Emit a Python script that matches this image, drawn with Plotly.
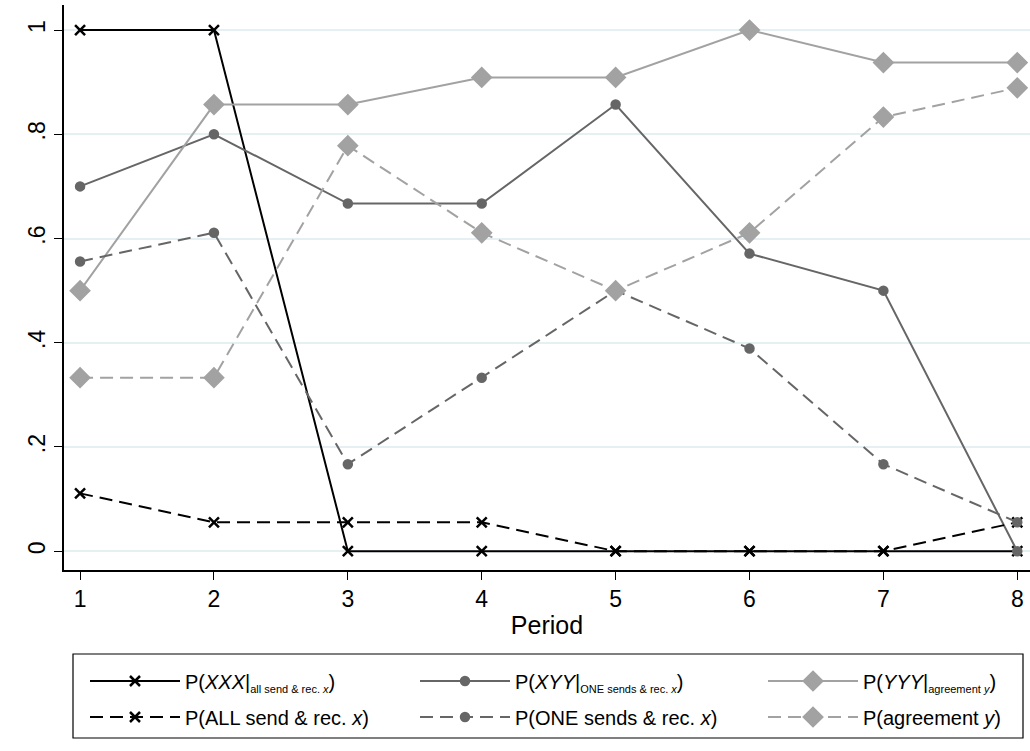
import plotly.graph_objects as go

periods = [1, 2, 3, 4, 5, 6, 7, 8]
xxx_all = [1, 1, 0, 0, 0, 0, 0, 0]
all_send = [0.111, 0.0556, 0.0556, 0.0556, 0, 0, 0, 0.0556]
xyy_one = [0.7, 0.8, 0.667, 0.667, 0.857, 0.571, 0.5, 0]
one_sends = [0.556, 0.611, 0.167, 0.333, 0.5, 0.389, 0.167, 0.0556]
yyy_agree = [0.5, 0.857, 0.857, 0.909, 0.909, 1, 0.9375, 0.9375]
agree_y = [0.333, 0.333, 0.778, 0.611, 0.5, 0.611, 0.833, 0.889]

y_ticks = [0, 0.2, 0.4, 0.6, 0.8, 1]
y_labels = ["0", ".2", ".4", ".6", ".8", "1"]

FONT = "Arial, Liberation Sans, sans-serif"
BLACK = "#000000"
DARK = "#666666"
LIGHT = "#a2a2a2"
DASH = "13px,7px"

def sub(t):
    return "<sub><span style='font-size:11px'>" + t + "</span></sub>"

fig = go.Figure()

# (name, values, colour, dash, symbol, size, legend id)
series = [
    ("P(<i>XXX</i>|" + sub("all send &amp; rec. <i>x</i>") + ")", xxx_all, BLACK, "solid", "x-thin-open", 10, "legend"),
    ("P(<i>XYY</i>|" + sub("ONE sends &amp; rec. <i>x</i>") + ")", xyy_one, DARK, "solid", "circle", 8, "legend2"),
    ("P(<i>YYY</i>|" + sub("agreement <i>y</i>") + ")", yyy_agree, LIGHT, "solid", "diamond", 14, "legend3"),
    ("P(ALL send &amp; rec. <i>x</i>)", all_send, BLACK, DASH, "x-thin-open", 10, "legend4"),
    ("P(ONE sends &amp; rec. <i>x</i>)", one_sends, DARK, DASH, "circle", 8, "legend5"),
    ("P(agreement <i>y</i>)", agree_y, LIGHT, DASH, "diamond", 14, "legend6"),
]

for name, vals, color, dash, sym, size, leg in series:
    fig.add_trace(go.Scatter(
        x=periods, y=vals, name=name, mode="lines+markers", legend=leg,
        line=dict(color=color, width=2, dash=dash),
        marker=dict(symbol=sym, size=size, color=color,
                    line=dict(color=color, width=2.5)),
    ))

# plot area: left 64, right 1030, top 5, bottom 570 (pixels)
def px_x(px):
    return (px - 64) / 966.0

def px_y(py):
    return (570 - py) / 565.0

col_left = [85, 415, 763]
row_mid = [681, 717]
leg_ids = ["legend", "legend2", "legend3", "legend4", "legend5", "legend6"]
legend_layouts = {}
for i, lid in enumerate(leg_ids):
    r, c = divmod(i, 3)
    legend_layouts[lid] = dict(
        x=px_x(col_left[c]), y=px_y(row_mid[r]), xanchor="left", yanchor="middle",
        orientation="v", bgcolor="rgba(0,0,0,0)", borderwidth=0,
        itemwidth=90, font=dict(family=FONT, size=20, color="black"),
    )

fig.add_shape(type="rect", xref="paper", yref="paper",
              x0=px_x(73), x1=px_x(1023), y0=px_y(654), y1=px_y(738),
              line=dict(color="black", width=1.2), fillcolor="rgba(0,0,0,0)")

fig.update_layout(
    width=1030, height=751,
    margin=dict(l=64, r=0, t=5, b=181),
    paper_bgcolor="white", plot_bgcolor="white",
    font=dict(family=FONT, size=18, color="black"),
    showlegend=True,
    xaxis=dict(
        range=[0.88, 8.095], tickvals=periods, ticks="outside", ticklen=8,
        tickcolor="black", showline=True, linecolor="black", linewidth=1.5,
        showgrid=False, zeroline=False, tickfont=dict(size=23),
        title=dict(text="Period", font=dict(size=25), standoff=5),
    ),
    yaxis=dict(
        range=[-0.036, 1.048], tickvals=y_ticks, ticktext=y_labels,
        ticks="outside", ticklen=8, tickcolor="black", showline=True,
        linecolor="black", linewidth=1.5, showgrid=True, gridcolor="#e6eff1",
        gridwidth=2, zeroline=False, tickangle=-90, tickfont=dict(size=23),
    ),
    **legend_layouts,
)

fig.write_html("out.html", config={"displayModeBar": False},
               post_script="document.body.style.margin='0px';")
